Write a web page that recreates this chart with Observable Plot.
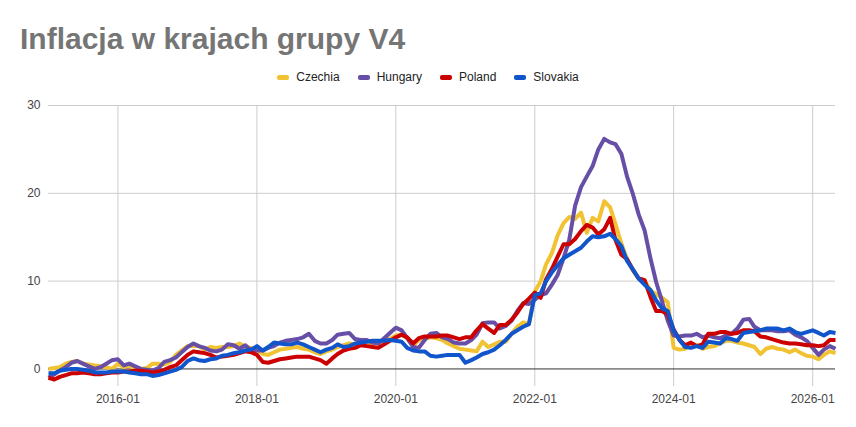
<!DOCTYPE html>
<html>
<head>
<meta charset="utf-8">
<script src="https://cdn.jsdelivr.net/npm/d3@7"></script>
<script src="https://cdn.jsdelivr.net/npm/@observablehq/plot@0.6"></script>
<style>
  body { margin: 0; background: #fff; font-family: "Liberation Sans", Arial, sans-serif; }
  #wrap { width: 856px; }
  #head { position: relative; height: 92px; }
  #title { position: absolute; left: 20px; top: 24px; font-size: 30px; line-height: 30px; font-weight: bold; color: #757575; white-space: nowrap; }
  #legend { position: absolute; left: 0; width: 856px; top: 71px; display: flex; justify-content: center; font-size: 12px; line-height: 12px; color: #222; }
  .item { display: flex; align-items: center; margin: 0 9px; }
  .sw { width: 12px; height: 5px; border-radius: 2px; margin-right: 7px; }
</style>
</head>
<body>
<div id="wrap">
  <div id="head">
    <div id="title">Inflacja w krajach grupy V4</div>
    <div id="legend"></div>
  </div>
  <div id="chart"></div>
</div>
<script>
// Annual HICP inflation, %, monthly from 2015-01
const firstMonth = "2015-01";
const countries = ["Czechia", "Hungary", "Poland", "Slovakia"];
const colors = ["#f1c232", "#674ea7", "#cc0000", "#1155cc"];

const czechia = [
  0.0, 0.1, 0.2, 0.6, 0.8, 0.9, 0.6, 0.5, 0.4, 0.3, 0.2, 0.0,
  0.6, 0.2, 0.4, 0.0, 0.0, 0.1, 0.6, 0.6, 0.5, 0.8, 1.6, 2.1,
  2.6, 2.6, 2.6, 2.2, 2.5, 2.4, 2.5, 2.5, 2.6, 2.9, 2.5, 2.4,
  2.2, 1.7, 1.6, 1.9, 2.2, 2.3, 2.4, 2.5, 2.3, 2.2, 1.9, 1.7,
  2.0, 2.2, 2.5, 2.7, 2.9, 2.8, 3.0, 3.0, 2.9, 2.9, 3.3, 3.4,
  3.8, 3.9, 3.5, 2.6, 3.3, 3.4, 3.6, 3.5, 3.3, 2.9, 2.6, 2.3,
  2.2, 2.1, 2.0, 3.1, 2.5, 2.8, 3.1, 3.1, 4.0, 4.8, 5.3, 5.1,
  8.8, 10.0, 11.9, 13.2, 15.2, 16.6, 17.3, 17.1, 17.8, 15.5, 17.2, 16.8,
  19.1, 18.4, 16.5, 14.3, 12.5, 11.2, 10.3, 10.1, 8.9, 8.5, 8.1, 7.6,
  2.4, 2.2, 2.3, 2.9, 2.7, 2.3, 2.5, 2.6, 2.9, 3.2, 3.2, 3.0,
  2.9, 2.7, 2.5, 1.7, 2.3, 2.5, 2.3, 2.2, 1.9, 2.2, 1.8, 1.5,
  1.4, 1.1, 1.6, 2.0, 1.8
];

const hungary = [
  -1.0, -0.6, -0.2, 0.2, 0.7, 0.9, 0.6, 0.3, 0.0, 0.2, 0.6, 1.0,
  1.1, 0.4, 0.6, 0.3, 0.0, -0.1, -0.2, 0.1, 0.8, 1.0, 1.3, 1.9,
  2.5, 2.9, 2.6, 2.4, 2.1, 2.0, 2.2, 2.8, 2.7, 2.3, 2.7, 2.1,
  2.1, 2.1, 2.4, 2.6, 3.0, 3.2, 3.3, 3.4, 3.6, 4.0, 3.2, 2.9,
  2.9, 3.3, 3.9, 4.0, 4.1, 3.4, 3.3, 3.3, 3.0, 2.9, 3.5, 4.1,
  4.7, 4.4, 3.5, 2.5, 2.4, 3.3, 4.0, 4.1, 3.6, 3.4, 3.0, 2.9,
  2.9, 3.3, 3.9, 5.2, 5.3, 5.3, 4.6, 4.9, 5.5, 6.6, 7.5, 7.4,
  7.9, 8.4, 8.6, 9.6, 10.7, 12.6, 14.7, 18.6, 20.7, 21.9, 23.1, 25.0,
  26.2, 25.8, 25.6, 24.5, 21.9, 19.9, 17.6, 15.8, 12.6, 9.9, 7.7, 5.5,
  3.8, 3.7, 3.8, 3.8, 4.0, 3.6, 3.8, 3.6, 3.5, 3.8, 4.0, 4.6,
  5.6, 5.7, 4.8, 4.4, 4.4, 4.4, 4.3, 4.3, 4.4, 3.9, 3.6, 3.2,
  2.4, 1.6, 2.2, 2.6, 2.3
];

const poland = [
  -1.0, -1.2, -0.9, -0.7, -0.5, -0.5, -0.4, -0.5, -0.6, -0.6, -0.5, -0.4,
  -0.4, -0.3, -0.3, -0.2, -0.2, -0.3, -0.4, -0.3, -0.1, 0.2, 0.4, 1.0,
  1.6, 2.0, 1.9, 1.8, 1.6, 1.3, 1.4, 1.5, 1.6, 1.8, 2.0, 1.9,
  1.6, 0.8, 0.7, 0.9, 1.1, 1.2, 1.3, 1.4, 1.4, 1.4, 1.2, 1.0,
  0.6, 1.2, 1.7, 2.1, 2.3, 2.4, 2.7, 2.6, 2.5, 2.4, 2.8, 3.2,
  3.6, 3.9, 3.6, 2.9, 3.5, 3.7, 3.7, 3.7, 3.8, 3.8, 3.6, 3.4,
  3.6, 3.6, 4.4, 5.1, 4.6, 4.1, 5.0, 5.0, 5.6, 6.4, 7.4, 8.0,
  8.7, 8.1, 10.2, 11.4, 12.8, 14.2, 14.2, 14.8, 15.7, 16.4, 16.1, 15.3,
  15.9, 17.2, 14.7, 13.0, 12.5, 11.3, 10.3, 10.1, 8.2, 6.6, 6.6, 6.2,
  4.5, 3.3, 2.7, 3.0, 2.6, 2.8, 4.0, 4.0, 4.2, 4.2, 4.0, 4.1,
  4.4, 4.4, 4.3, 3.7, 3.6, 3.4, 3.2, 3.0, 2.9, 2.9, 2.8, 2.7,
  2.7, 2.6, 2.7, 3.3, 3.3
];

const slovakia = [
  -0.5, -0.5, -0.2, -0.1, 0.0, 0.0, -0.1, -0.2, -0.4, -0.4, -0.4, -0.3,
  -0.3, -0.3, -0.4, -0.5, -0.6, -0.6, -0.8, -0.7, -0.5, -0.3, -0.1, 0.2,
  0.9, 1.2, 1.0, 0.9, 1.1, 1.2, 1.5, 1.6, 1.8, 1.9, 2.1, 2.2,
  2.6, 2.1, 2.5, 3.0, 2.9, 2.8, 2.8, 3.0, 2.8, 2.5, 2.2, 1.9,
  2.2, 2.4, 2.8, 2.5, 2.6, 2.9, 3.0, 3.1, 3.2, 3.2, 3.2, 3.3,
  3.2, 3.1, 2.4, 2.1, 2.0, 2.0, 1.5, 1.4, 1.5, 1.6, 1.6, 1.6,
  0.7, 1.0, 1.3, 1.7, 1.9, 2.2, 2.7, 3.3, 4.0, 4.4, 4.8, 5.1,
  8.4, 8.6, 10.0, 11.0, 11.8, 12.6, 13.0, 13.4, 13.8, 14.5, 15.1, 15.0,
  15.1, 15.4, 14.8, 14.0, 12.3, 11.3, 10.3, 9.6, 9.0, 7.8, 6.9, 6.6,
  4.4, 3.3, 2.5, 2.4, 2.6, 2.4, 3.1, 3.0, 2.9, 3.5, 3.4, 3.2,
  4.1, 4.2, 4.3, 4.4, 4.6, 4.6, 4.6, 4.4, 4.6, 4.2, 4.0, 4.2,
  4.4, 4.1, 3.8, 4.2, 4.1
];

const xTickLabels = ["2016-01", "2018-01", "2020-01", "2022-01", "2024-01", "2026-01"];
const yTickValues = [0, 10, 20, 30];

const parseMonth = d3.utcParse("%Y-%m");
const start = parseMonth(firstMonth);
const seriesValues = [czechia, hungary, poland, slovakia];
const months = d3.utcMonth.range(start, d3.utcMonth.offset(start, czechia.length));

const rows = countries.flatMap((name, k) =>
  seriesValues[k].map((v, i) => ({date: months[i], country: name, value: v}))
);
const xTicks = xTickLabels.map(parseMonth);

// legend
const legend = document.getElementById("legend");
countries.forEach((name, k) => {
  const item = document.createElement("div");
  item.className = "item";
  const sw = document.createElement("span");
  sw.className = "sw";
  sw.style.background = colors[k];
  const label = document.createElement("span");
  label.textContent = name;
  item.append(sw, label);
  legend.append(item);
});

const chart = Plot.plot({
  width: 856,
  height: 335,
  marginTop: 13,
  marginBottom: 41,
  marginLeft: 48,
  marginRight: 21,
  style: {fontFamily: "Liberation Sans, Arial, sans-serif", fontSize: "12px", color: "#444", background: "#fff", overflow: "visible"},
  x: {type: "utc", domain: [start, months[months.length - 1]]},
  y: {domain: [-2, 30]},
  color: {domain: countries, range: colors},
  marks: [
    Plot.gridX(xTicks, {stroke: "#cccccc", strokeOpacity: 1}),
    Plot.gridY(yTickValues.filter(d => d !== 0), {stroke: "#cccccc", strokeOpacity: 1}),
    Plot.axisX(xTicks, {tickSize: 0, tickPadding: 8, tickFormat: d3.utcFormat("%Y-%m"), label: null}),
    Plot.axisY(yTickValues, {tickSize: 0, tickPadding: 8, label: null}),
    Plot.ruleY([0], {stroke: "#333333"}),
    Plot.lineY(rows, {x: "date", y: "value", z: "country", stroke: "country", strokeWidth: 4, strokeLinejoin: "round", strokeLinecap: "butt"})
  ]
});
document.getElementById("chart").append(chart);
</script>
</body>
</html>
